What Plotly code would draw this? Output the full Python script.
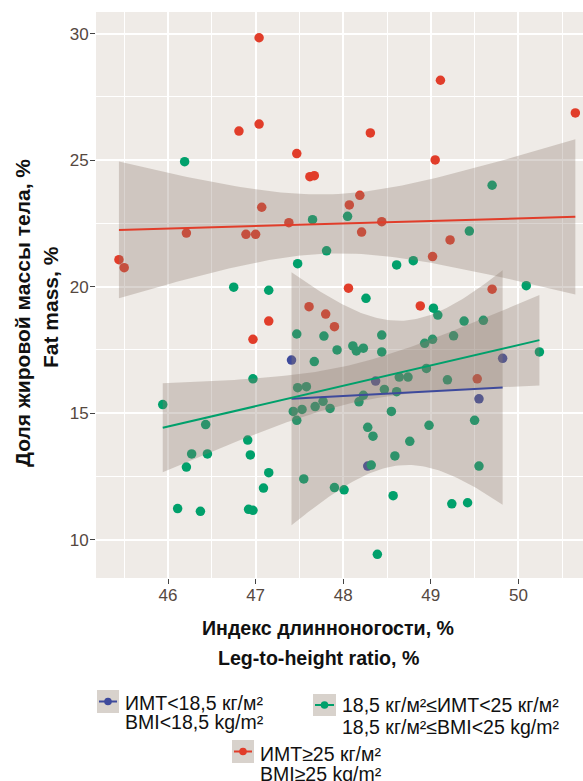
import math
import numpy as np
import plotly.graph_objects as go

# ---------------- data ----------------
blue_x = [47.41, 48.28, 48.37, 49.55, 49.82]
blue_y = [17.10, 12.91, 16.27, 15.57, 17.17]

green_x = [46.19, 47.65, 47.81, 47.48, 46.75, 47.15, 49.70, 48.05, 49.44, 48.61,
           48.80, 50.09, 49.03, 49.08, 49.38, 49.60, 48.26, 47.47, 47.78, 47.93,
           47.67, 46.97, 47.48, 47.58, 45.94, 47.43, 47.53, 47.68, 47.77, 47.85,
           47.47, 46.43, 46.91, 46.27, 46.45, 46.94, 46.21, 47.15, 47.55, 47.09,
           47.90, 46.11, 46.37, 46.92, 46.97, 48.44, 48.11, 48.15, 48.23, 48.44,
           48.93, 49.02, 49.26, 50.24, 48.95, 48.64, 48.74, 49.19, 48.47, 48.23,
           48.18, 48.61, 48.55, 48.98, 49.50, 48.28, 48.34, 48.76, 48.59, 48.32,
           49.55, 48.01, 48.57, 49.24, 49.42, 48.39]
green_y = [24.94, 22.65, 21.42, 20.91, 19.98, 19.86, 24.01, 22.78, 22.20, 20.86,
           21.03, 20.04, 19.15, 18.88, 18.64, 18.67, 19.54, 18.13, 18.05, 17.50,
           17.04, 16.36, 16.01, 16.05, 15.34, 15.07, 15.15, 15.26, 15.47, 15.19,
           14.72, 14.55, 13.94, 13.39, 13.39, 13.35, 12.87, 12.65, 12.40, 12.04,
           12.06, 11.23, 11.12, 11.20, 11.16, 18.09, 17.66, 17.46, 17.57, 17.42,
           17.76, 17.92, 18.06, 17.42, 16.77, 16.43, 16.43, 16.32, 15.94, 15.71,
           15.45, 15.85, 15.07, 14.52, 14.72, 14.44, 14.09, 13.89, 13.31, 12.95,
           12.91, 11.97, 11.74, 11.42, 11.46, 9.42]

red_x = [47.04, 46.81, 47.04, 47.47, 47.62, 47.67, 47.07, 46.21, 46.89, 47.00,
         47.38, 45.44, 45.50, 47.15, 47.61, 47.80, 47.90, 49.11, 50.65, 48.31,
         49.05, 48.19, 48.07, 48.44, 48.21, 49.22, 49.02, 48.06, 48.88, 49.70,
         46.97, 49.53]
red_y = [29.84, 26.15, 26.43, 25.26, 24.35, 24.39, 23.14, 22.12, 22.07, 22.07,
         22.53, 21.07, 20.75, 18.64, 19.21, 18.92, 18.42, 28.16, 26.87, 26.08,
         25.01, 23.61, 23.23, 22.57, 22.16, 21.85, 21.19, 19.94, 19.24, 19.90,
         17.92, 16.36]

x_ticks = [46, 47, 48, 49, 50]
y_ticks = [10, 15, 20, 25, 30]

legend_line1 = ["ИМТ<18,5 кг/м²", "18,5 кг/м²≤ИМТ<25 кг/м²", "ИМТ≥25 кг/м²"]
legend_line2 = ["BMI<18,5 kg/m²", "18,5 кг/м²≤BMI<25 kg/m²", "BMI≥25 kg/m²"]

BLUE = "#3E4A9C"
GREEN = "#00A06B"
RED = "#E13D2A"
BAND = "rgba(140,122,108,0.32)"
PANEL = "#EFEBE7"

# ---------------- layout geometry (pixels) ----------------
W, H = 583, 781
PL, PR, PT, PB = 96, 583, 12, 578


def px2x(px):
    return (px - PL) / (PR - PL)


def px2y(py):
    return (PB - py) / (PB - PT)


def t_quantile(p, df):
    c = math.exp(math.lgamma((df + 1) / 2) - math.lgamma(df / 2)) / math.sqrt(df * math.pi)
    g = np.linspace(0, 80, 400001)
    pdf = c * (1 + g ** 2 / df) ** (-(df + 1) / 2)
    cdf = 0.5 + np.concatenate([[0.0], np.cumsum((pdf[1:] + pdf[:-1]) / 2 * np.diff(g))])
    return float(np.interp(p, cdf, g))


def lm_fit(x, y, n=80):
    x = np.asarray(x, float)
    y = np.asarray(y, float)
    m = len(x)
    xm = x.mean()
    sxx = ((x - xm) ** 2).sum()
    b = ((x - xm) * (y - y.mean())).sum() / sxx
    a = y.mean() - b * xm
    res = y - (a + b * x)
    s = math.sqrt((res ** 2).sum() / (m - 2))
    xs = np.linspace(x.min(), x.max(), n)
    yh = a + b * xs
    se = s * np.sqrt(1 / m + (xs - xm) ** 2 / sxx)
    t = t_quantile(0.975, m - 2)
    return xs, yh, yh - t * se, yh + t * se


groups = [(blue_x, blue_y, BLUE), (green_x, green_y, GREEN), (red_x, red_y, RED)]

fig = go.Figure()

# points
for gx, gy, col in groups:
    fig.add_trace(go.Scatter(x=gx, y=gy, mode="markers",
                             marker=dict(color=col, size=9.5, line=dict(width=0)),
                             showlegend=False, hoverinfo="skip"))

fits = [lm_fit(gx, gy) for gx, gy, _ in groups]

# ribbons
for (xs, yh, lo, hi) in fits:
    fig.add_trace(go.Scatter(x=np.concatenate([xs, xs[::-1]]),
                             y=np.concatenate([hi, lo[::-1]]),
                             mode="lines", fill="toself", fillcolor=BAND,
                             line=dict(width=0), showlegend=False, hoverinfo="skip"))

# regression lines
for (xs, yh, lo, hi), (_, _, col) in zip(fits, groups):
    fig.add_trace(go.Scatter(x=xs, y=yh, mode="lines", line=dict(color=col, width=2),
                             showlegend=False, hoverinfo="skip"))

TICKCOL = "#55483F"
fig.update_xaxes(range=[46 - (168 - PL) / 87.6, 46 + (PR - 168) / 87.6],
                 tickmode="array", tickvals=x_ticks, ticktext=[str(v) for v in x_ticks],
                 showgrid=True, gridcolor="white", gridwidth=1.8,
                 minor=dict(tickmode="linear", tick0=45.5, dtick=0.5, showgrid=True,
                            gridcolor="white", gridwidth=0.9, ticks=""),
                 ticks="outside", ticklen=5, tickwidth=1.2, tickcolor="#444",
                 ticklabelstandoff=-3,
                 tickfont=dict(family="Liberation Sans, Arial", size=17, color=TICKCOL),
                 zeroline=False, showline=False)
fig.update_yaxes(range=[30 - (PB - 33.7) / 25.3, 30 + (33.7 - PT) / 25.3],
                 tickmode="array", tickvals=y_ticks, ticktext=[str(v) for v in y_ticks],
                 showgrid=True, gridcolor="white", gridwidth=1.8,
                 minor=dict(tickmode="linear", tick0=7.5, dtick=2.5, showgrid=True,
                            gridcolor="white", gridwidth=0.9, ticks=""),
                 ticks="outside", ticklen=5, tickwidth=1.2, tickcolor="#444",
                 ticklabelstandoff=-2,
                 tickfont=dict(family="Liberation Sans, Arial", size=17, color=TICKCOL),
                 zeroline=False, showline=False)

TITLE_FONT = "Liberation Sans, Arial"
annotations = []


def add_text(text, cx, cy, size, family, anchor="center", angle=0, bold=False, color="#111"):
    annotations.append(dict(text=("<b>%s</b>" % text) if bold else text,
                            x=px2x(cx), y=px2y(cy), xref="paper", yref="paper",
                            xanchor=anchor, yanchor="middle", showarrow=False,
                            textangle=angle, font=dict(family=family, size=size, color=color)))


# axis titles
XT = 19.6
YT = 21
add_text("Индекс длинноногости, %", 328, 635 - 0.35 * XT, XT, TITLE_FONT, bold=True)
add_text("Leg-to-height ratio, %", 318, 665 - 0.35 * XT, XT, TITLE_FONT, bold=True)
add_text("Доля жировой массы тела, %", 22, 313, YT, TITLE_FONT, angle=-90, bold=True)
add_text("Fat mass, %", 51, 307, YT, TITLE_FONT, angle=-90, bold=True)

# legend (manual)
LEG_FONT = "Liberation Sans, Arial"
LS = 19.5
legend_boxes = [(97, 690, 119, 713), (313, 694, 336, 716), (232, 740, 254, 763)]
legend_text_left = [125, 342, 260]
legend_baselines = [(710, 729), (712, 734), (761, 781)]
legend_cols = [BLUE, GREEN, RED]
shapes = []
for (x0, y0, x1, y1), tl, (b1, b2), col, t1, t2 in zip(legend_boxes, legend_text_left,
                                                       legend_baselines, legend_cols,
                                                       legend_line1, legend_line2):
    shapes.append(dict(type="rect", xref="paper", yref="paper",
                       x0=px2x(x0), x1=px2x(x1), y0=px2y(y1), y1=px2y(y0),
                       fillcolor="#D8D2CC", line=dict(width=0), layer="above"))
    cy = (y0 + y1) / 2
    shapes.append(dict(type="line", xref="paper", yref="paper",
                       x0=px2x(x0 + 2), x1=px2x(x1 - 2), y0=px2y(cy), y1=px2y(cy),
                       line=dict(color=col, width=2), layer="above"))
    cx = (x0 + x1) / 2
    shapes.append(dict(type="circle", xref="paper", yref="paper",
                       x0=px2x(cx - 3.8), x1=px2x(cx + 3.8), y0=px2y(cy + 3.8), y1=px2y(cy - 3.8),
                       fillcolor=col, line=dict(width=0), layer="above"))
    add_text(t1, tl - 2, b1 - 0.35 * LS, LS, LEG_FONT, anchor="left")
    add_text(t2, tl - 2, b2 - 0.35 * LS, LS, LEG_FONT, anchor="left")

fig.update_layout(width=W, height=H,
                  margin=dict(l=PL, r=W - PR, t=PT, b=H - PB, pad=0),
                  plot_bgcolor=PANEL, paper_bgcolor="white",
                  showlegend=False, annotations=annotations, shapes=shapes)

fig.write_html("out.html")
